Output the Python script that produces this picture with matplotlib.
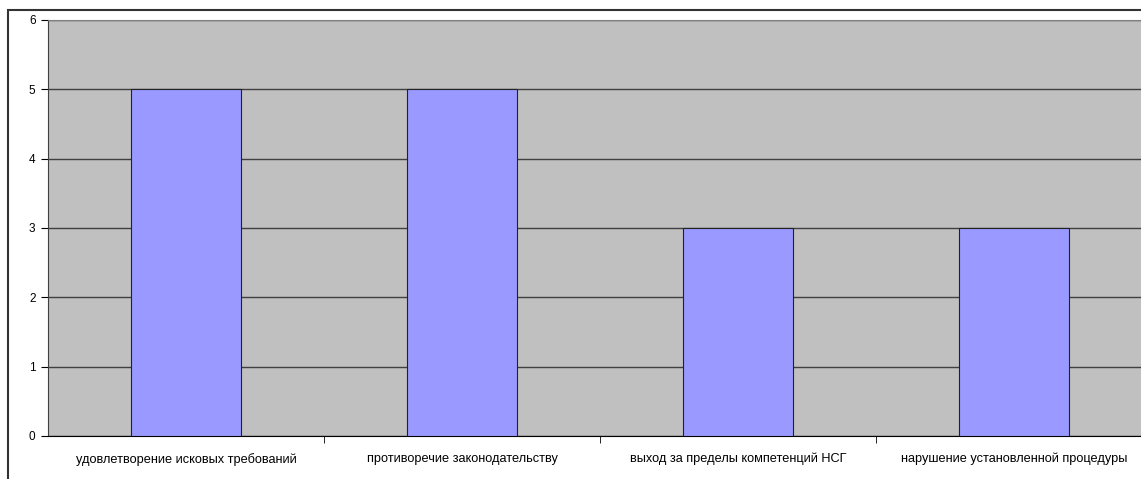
import matplotlib.pyplot as plt
from matplotlib.patches import Rectangle

categories = ['удовлетворение исковых требований', 'противоречие законодательству',
              'выход за пределы компетенций НСГ', 'нарушение установленной процедуры']
values = [5, 5, 3, 3]
yticks = [0, 1, 2, 3, 4, 5, 6]

plt.rcParams['font.family'] = ['Liberation Sans', 'DejaVu Sans']

W, H = 1141, 479
fig = plt.figure(figsize=(W / 100, H / 100), dpi=100)
ax = fig.add_axes([48 / W, (H - 436) / H, 1104 / W, 416 / H])
ax.set_facecolor('#C0C0C0')

x = list(range(len(categories)))
ax.bar(x, values, width=0.4, color='#9999FF', edgecolor='#222222', linewidth=0.8, zorder=3)

ax.set_xlim(-0.5, len(categories) - 0.5)
ax.set_ylim(0, 6)
ax.set_yticks(yticks)
ax.yaxis.grid(True, color='#404040', linewidth=1.0, zorder=1)
ax.set_axisbelow(True)

# category labels centred, tick marks between categories
ax.set_xticks(x)
ax.set_xticklabels(categories, fontsize=9.2)
ax.tick_params(axis='x', length=0, pad=12)
ax.set_xticks([i + 0.5 for i in range(len(categories) - 1)], minor=True)
ax.tick_params(axis='x', which='minor', length=5, direction='out', color='black')
ax.tick_params(axis='y', labelsize=8.5, length=5, direction='out', pad=4)

ax.spines['right'].set_visible(False)
ax.spines['top'].set_color('#808080')
ax.spines['left'].set_color('#404040')
ax.spines['bottom'].set_color('black')

# outer chart frame
fig.patches.append(Rectangle((8 / W, -0.1), 1.2, (H - 10) / H + 0.1, transform=fig.transFigure,
                             fill=False, edgecolor='#333333', linewidth=1.5))

fig.savefig('out.png', dpi=100)
